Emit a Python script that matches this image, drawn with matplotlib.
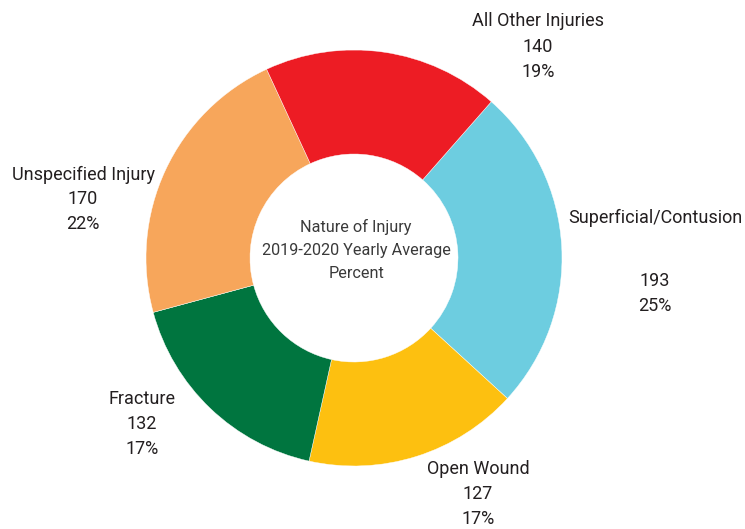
import numpy as np
import matplotlib.pyplot as plt

plt.rcParams['font.family'] = ['Roboto', 'DejaVu Sans']

# Data, clockwise starting from Superficial/Contusion
categories = ['Superficial/Contusion', 'Open Wound', 'Fracture', 'Unspecified Injury', 'All Other Injuries']
counts = [193, 127, 132, 170, 140]
percents = ['25%', '17%', '17%', '22%', '19%']
colors = ['#6DCDE0', '#FDC010', '#00753F', '#F7A65B', '#ED1C24']

W, H = 745, 529
cx, cy, R = 354, 258, 208

fig = plt.figure(figsize=(W / 100, H / 100), dpi=100)
ax = fig.add_axes([0, 0, 1, 1])

ax.pie(counts, colors=colors, startangle=48.7, counterclock=False, radius=1.0,
	wedgeprops=dict(width=0.5, edgecolor='white', linewidth=0.3))

ax.set_xlim(-cx / R, (W - cx) / R)
ax.set_ylim(-(H - cy) / R, cy / R)
ax.axis('off')

def px(x, y):
	# pixel position -> data coordinates
	return (x - cx) / R, (cy - y) / R

fs = 13
txt = '#231F20'

# Label positions in pixels (name line, then count and percent)
label_pos = {
	'Superficial/Contusion': (655, 218, 281),
	'Open Wound': (478, 469, 494),
	'Fracture': (142, 399, 424),
	'Unspecified Injury': (83, 175, 199),
	'All Other Injuries': (538, 21, 47),
}
for name, n, p in zip(categories, counts, percents):
	x, y_name, y_num = label_pos[name]
	ax.text(*px(x, y_name), name, ha='center', va='center', fontsize=fs, color=txt)
	ax.text(*px(x, y_num), str(n), ha='center', va='center', fontsize=fs, color=txt)
	ax.text(*px(x, y_num + 25), p, ha='center', va='center', fontsize=fs, color=txt)

# Center title
center_lines = ['Nature of Injury', '2019-2020 Yearly Average', 'Percent']
for i, line in enumerate(center_lines):
	ax.text(*px(356, 227 + 23.5 * i), line, ha='center', va='center', fontsize=11.7, color='#3A3A3A')

fig.savefig('out.png', dpi=100)
